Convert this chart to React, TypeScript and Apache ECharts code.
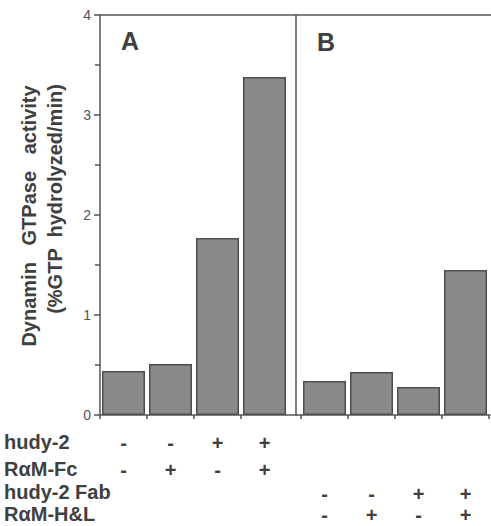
import React, { useEffect, useRef } from "react";
import * as echarts from "echarts";

// ---- data ----
const panelAValues = [0.44, 0.51, 1.77, 3.38];
const panelBValues = [0.34, 0.43, 0.28, 1.45];
const hudy2 = ["-", "-", "+", "+"];
const ramFc = ["-", "+", "-", "+"];
const hudy2Fab = ["-", "-", "+", "+"];
const ramHL = ["-", "+", "-", "+"];
const rowLabels = ["hudy-2", "R\u03B1M-Fc", "hudy-2 Fab", "R\u03B1M-H&L"];
const yTicks = [0, 1, 2, 3, 4];
const panelNames = ["A", "B"];
const yTitle1 = "Dynamin   GTPase   activity";
const yTitle2 = "(%GTP  hydrolyzed/min)";

const FONT = "'Liberation Sans', Arial, Helvetica, sans-serif";
const AXIS = "#555555";
const TEXT = "#404040";

export default function App() {
  const ref = useRef<HTMLDivElement>(null);
  useEffect(() => {
    if (!ref.current) return;
    const chart = echarts.init(ref.current, undefined, { renderer: "svg" });
    const unit = 47;
    const barStyle = {
      color: "#8a8a8a",
      borderColor: "#4e4e4e",
      borderWidth: 1.5,
    };
    const xCommon = (gridIndex: number, min: number, max: number, tickVals: number[], labelFn: (i: number) => string, margin: number, lh: number) => ({
      type: "value",
      gridIndex,
      min,
      max,
      axisLine: { show: true, onZero: false, lineStyle: { color: AXIS, width: 1.5 } },
      axisTick: { show: true, length: 4, customValues: tickVals, lineStyle: { color: AXIS, width: 1.5 } },
      axisLabel: {
        customValues: [0.5, 1.5, 2.5, 3.5],
        formatter: (v: number) => labelFn(Math.round(v - 0.5)),
        margin,
        lineHeight: lh,
        fontSize: 20,
        fontWeight: "bold",
        fontFamily: FONT,
        color: TEXT,
      },
      splitLine: { show: false },
    });
    const option: any = {
      animation: false,
      backgroundColor: "#ffffff",
      grid: [
        { left: 100, top: 15, width: 196, height: 400, outerBoundsMode: "none", containLabel: false },
        { left: 296, top: 15, width: 194, height: 400, outerBoundsMode: "none", containLabel: false },
      ],
      xAxis: [
        xCommon(0, 0, 196 / unit, [0, 1, 2, 3], (i) => `${hudy2[i]}\n${ramFc[i]}`, 14.5, 27),
        xCommon(1, -5 / unit, 189 / unit, [0, 1, 2, 3, 4], (i) => `${hudy2Fab[i]}\n${ramHL[i]}`, 68, 21),
      ],
      yAxis: [
        {
          type: "value",
          gridIndex: 0,
          min: yTicks[0],
          max: yTicks[yTicks.length - 1],
          interval: 1,
          axisLine: { show: true, onZero: false, lineStyle: { color: AXIS, width: 1.5 } },
          axisTick: { show: true, length: 6, lineStyle: { color: AXIS, width: 1.5 } },
          minorTick: { show: true, splitNumber: 2, length: 5, lineStyle: { color: AXIS, width: 1.5 } },
          axisLabel: { fontSize: 14, color: AXIS, margin: 9, fontFamily: FONT },
          splitLine: { show: false },
        },
        {
          type: "value",
          gridIndex: 1,
          min: yTicks[0],
          max: yTicks[yTicks.length - 1],
          interval: 1,
          axisLine: { show: true, onZero: false, lineStyle: { color: AXIS, width: 1.5 } },
          axisTick: { show: false },
          axisLabel: { show: false },
          splitLine: { show: false },
        },
      ],
      series: [
        {
          type: "bar",
          xAxisIndex: 0,
          yAxisIndex: 0,
          barWidth: 43,
          itemStyle: barStyle,
          data: panelAValues.map((v, i) => [i + 0.5, v]),
        },
        {
          type: "bar",
          xAxisIndex: 1,
          yAxisIndex: 1,
          barWidth: 43,
          itemStyle: barStyle,
          data: panelBValues.map((v, i) => [i + 0.5, v]),
        },
      ],
      graphic: [
        {
          type: "line",
          shape: { x1: 100, y1: 15, x2: 491, y2: 15 },
          style: { stroke: AXIS, lineWidth: 1.5 },
        },
        {
          type: "text",
          x: 29,
          y: 216,
          rotation: Math.PI / 2,
          style: { text: yTitle1, fontSize: 20, fontWeight: "bold", fontFamily: FONT, fill: TEXT, align: "center", verticalAlign: "middle" },
        },
        {
          type: "text",
          x: 55,
          y: 199,
          rotation: Math.PI / 2,
          style: { text: yTitle2, fontSize: 20, fontWeight: "bold", fontFamily: FONT, fill: TEXT, align: "center", verticalAlign: "middle" },
        },
        ...rowLabels.map((t, i) => ({
          type: "text",
          x: 4,
          y: [442, 469, 492, 514][i],
          style: { text: t, fontSize: 20, fontWeight: "bold", fontFamily: FONT, fill: TEXT, align: "left", verticalAlign: "middle" },
        })),
        ...panelNames.map((t, i) => ({
          type: "text",
          x: [130, 326][i],
          y: [41, 42][i],
          style: { text: t, fontSize: 25, fontWeight: "bold", fontFamily: FONT, fill: TEXT, align: "center", verticalAlign: "middle" },
        })),
      ],
    };
    chart.setOption(option);
    return () => chart.dispose();
  }, []);
  return (
    <div
      ref={ref}
      style={{ position: "absolute", left: 0, top: 0, width: 491, height: 526 }}
    />
  );
}
